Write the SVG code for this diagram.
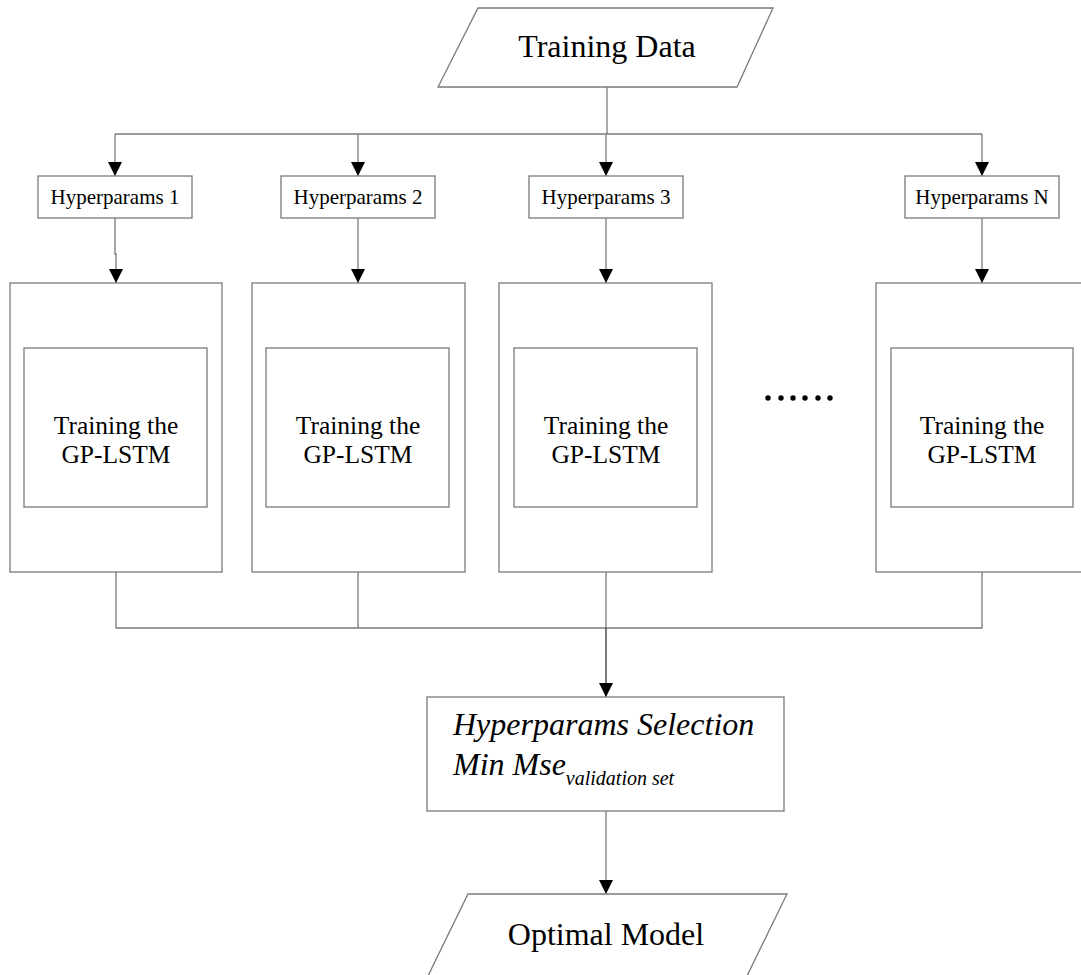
<svg xmlns="http://www.w3.org/2000/svg" width="1081" height="975" viewBox="0 0 1081 975">
<style>
.shape{fill:#fff;stroke:#7a7a7a;stroke-width:1.3}
.ln{fill:none;stroke:#7a7a7a;stroke-width:1.3}
.lnd{fill:none;stroke:#333;stroke-width:1.3}
text{font-family:"Liberation Serif","Times New Roman",serif;fill:#000;text-anchor:middle}
.big{font-size:32px}
.hp{font-size:21px}
.tr{font-size:25.5px}
.it{font-style:italic;text-anchor:start}
</style>
<defs>
<marker id="ah" viewBox="0 0 14 14" refX="14" refY="7" markerWidth="14" markerHeight="14" markerUnits="userSpaceOnUse" orient="auto">
<path d="M0,0 L14,7 L0,14 z" fill="#000"/>
</marker>
</defs>
<rect width="1081" height="975" fill="#fff"/>
<g id="connectors">
<path class="ln" d="M607,87 V134"/>
<path class="ln" d="M115,134 H982"/>
<path class="ln" d="M115,134 V176" marker-end="url(#ah)"/>
<path class="ln" d="M358,134 V176" marker-end="url(#ah)"/>
<path class="ln" d="M606,134 V176" marker-end="url(#ah)"/>
<path class="ln" d="M982,134 V176" marker-end="url(#ah)"/>
<path class="ln" d="M115,218 V254 H116 V283" marker-end="url(#ah)"/>
<path class="ln" d="M358,218 V283" marker-end="url(#ah)"/>
<path class="ln" d="M606,218 V283" marker-end="url(#ah)"/>
<path class="ln" d="M982,218 V283" marker-end="url(#ah)"/>
<path class="ln" d="M116,572 V628 H982 V572"/>
<path class="ln" d="M358,572 V628"/>
<path class="ln" d="M606,572 V628"/>
<path class="lnd" d="M606,628 V697" marker-end="url(#ah)"/>
<path class="ln" d="M606,811 V894" marker-end="url(#ah)"/>
</g>
<g id="training-data">
<polygon class="shape" points="478,8 773,8 737,87 438,87"/>
<text class="big" x="607" y="57">Training Data</text>
</g>
<g id="hp1">
<rect class="shape" x="38" y="176" width="154" height="42"/>
<text class="hp" x="115" y="204">Hyperparams 1</text>
</g>
<g id="hp2">
<rect class="shape" x="281" y="176" width="154" height="42"/>
<text class="hp" x="358" y="204">Hyperparams 2</text>
</g>
<g id="hp3">
<rect class="shape" x="529" y="176" width="154" height="42"/>
<text class="hp" x="606" y="204">Hyperparams 3</text>
</g>
<g id="hpN">
<rect class="shape" x="905" y="176" width="154" height="42"/>
<text class="hp" x="982" y="204">Hyperparams N</text>
</g>
<g id="model1">
<rect class="shape" x="10" y="283" width="212" height="289"/>
<rect class="shape" x="24" y="348" width="183" height="159"/>
<text class="tr" x="116" y="434">Training the</text>
<text class="tr" x="116" y="463">GP-LSTM</text>
</g>
<g id="model2">
<rect class="shape" x="252" y="283" width="213" height="289"/>
<rect class="shape" x="266" y="348" width="183" height="159"/>
<text class="tr" x="358" y="434">Training the</text>
<text class="tr" x="358" y="463">GP-LSTM</text>
</g>
<g id="model3">
<rect class="shape" x="499" y="283" width="213" height="289"/>
<rect class="shape" x="514" y="348" width="183" height="159"/>
<text class="tr" x="606" y="434">Training the</text>
<text class="tr" x="606" y="463">GP-LSTM</text>
</g>
<g id="ellipsis">
<circle cx="768" cy="398" r="2.7"/>
<circle cx="781" cy="398" r="2.7"/>
<circle cx="793" cy="398" r="2.7"/>
<circle cx="805" cy="398" r="2.7"/>
<circle cx="818" cy="398" r="2.7"/>
<circle cx="830" cy="398" r="2.7"/>
</g>
<g id="modelN">
<rect class="shape" x="876" y="283" width="213" height="289"/>
<rect class="shape" x="891" y="348" width="182" height="159"/>
<text class="tr" x="982" y="434">Training the</text>
<text class="tr" x="982" y="463">GP-LSTM</text>
</g>
<g id="selection">
<rect class="shape" x="427" y="697" width="357" height="114"/>
<text class="big it" x="453" y="735">Hyperparams Selection</text>
<text class="big it" x="453" y="775">Min Mse<tspan font-size="20" dy="10">validation set</tspan></text>
</g>
<g id="optimal-model">
<polygon class="shape" points="468,894 787,894 745,980 426,980"/>
<text class="big" x="606" y="945">Optimal Model</text>
</g>
</svg>
